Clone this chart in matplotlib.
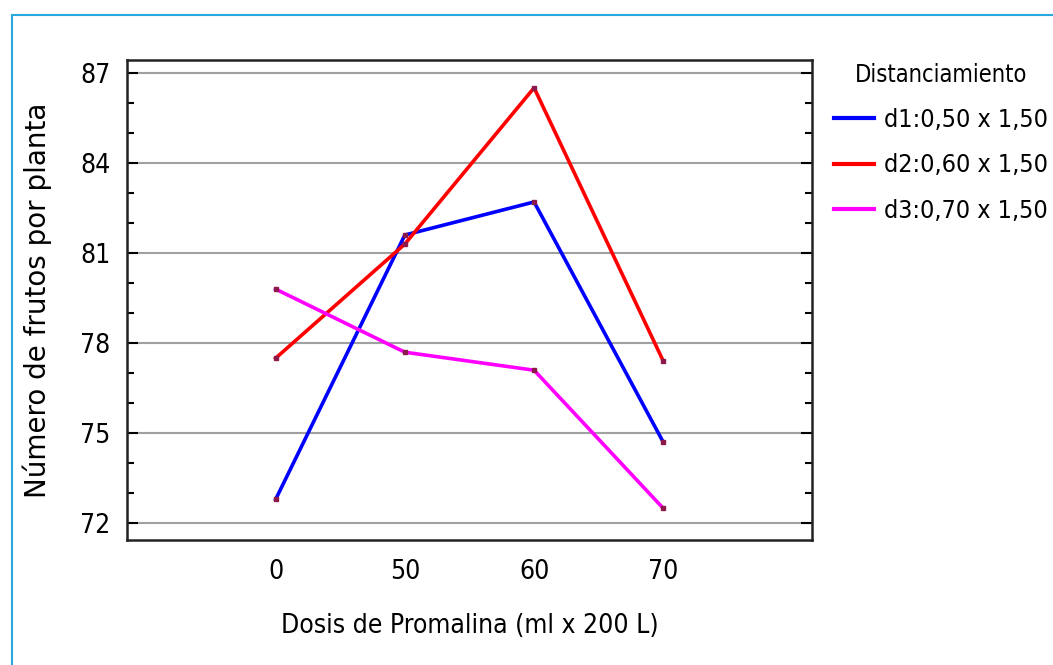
import matplotlib.pyplot as plt
from matplotlib.patches import Rectangle
from matplotlib.ticker import MultipleLocator

dosis = ["0", "50", "60", "70"]
d1 = [72.8, 81.6, 82.7, 74.7]
d2 = [77.5, 81.3, 86.5, 77.4]
d3 = [79.8, 77.7, 77.1, 72.5]
series_names = ["d1:0,50 x 1,50", "d2:0,60 x 1,50", "d3:0,70 x 1,50"]
colors = ["#0000ff", "#ff0000", "#ff00ff"]

# texto estrecho
narrow = dict(family="DejaVu Sans", stretch="condensed")

fig = plt.figure(figsize=(10.53, 6.65), dpi=100)
fig.patches.append(Rectangle((0.011, -0.01), 1.0, 0.988, transform=fig.transFigure,
                             fill=False, edgecolor="#29a8e0", linewidth=1.5))
ax = fig.add_axes([0.1206, 0.188, 0.6505, 0.722])

x = range(len(dosis))
for vals, name, c in zip([d1, d2, d3], series_names, colors):
    ax.plot(x, vals, color=c, linewidth=2.6, label=name,
            marker="s", markersize=3, markerfacecolor="#8b1a4a", markeredgecolor="#8b1a4a")

ax.set_xlim(-1.15, 4.15)
ax.set_ylim(71.45, 87.43)
ax.yaxis.set_minor_locator(MultipleLocator(1))
ax.set_yticks([72, 75, 78, 81, 84, 87])
ax.set_xticks(list(x))
ax.set_xticklabels(dosis, fontsize=19, **narrow)
for lab in ax.get_yticklabels():
    lab.set_family("DejaVu Sans")
    lab.set_stretch("condensed")
    lab.set_fontsize(19)
ax.tick_params(axis="y", which="both", direction="in", right=True, left=True, pad=12)
ax.tick_params(axis="y", which="major", length=8, width=1.5)
ax.tick_params(axis="y", which="minor", length=5, width=1.5)
ax.tick_params(axis="x", length=0, pad=14)
ax.grid(axis="y", color="#a0a0a0", linewidth=1.5)
for s in ax.spines.values():
    s.set_linewidth(1.8)
    s.set_color("#222222")

ax.set_xlabel("Dosis de Promalina (ml x 200 L)", fontsize=19, labelpad=20, **narrow)
ax.set_ylabel("N\u00famero de frutos por planta", fontsize=20, labelpad=20)

leg = ax.legend(loc="upper left", bbox_to_anchor=(1.006, 1.03), frameon=False,
                title="Distanciamiento", prop=dict(size=18, **narrow),
                handlelength=1.6, handletextpad=0.4, labelspacing=0.85, borderaxespad=0.3)
leg.get_title().set_fontsize(17)
leg.get_title().set_family("DejaVu Sans")
leg.get_title().set_stretch("condensed")
for line in leg.get_lines():
    line.set_marker("")
    line.set_linewidth(3)

fig.savefig("out.png", dpi=100)
